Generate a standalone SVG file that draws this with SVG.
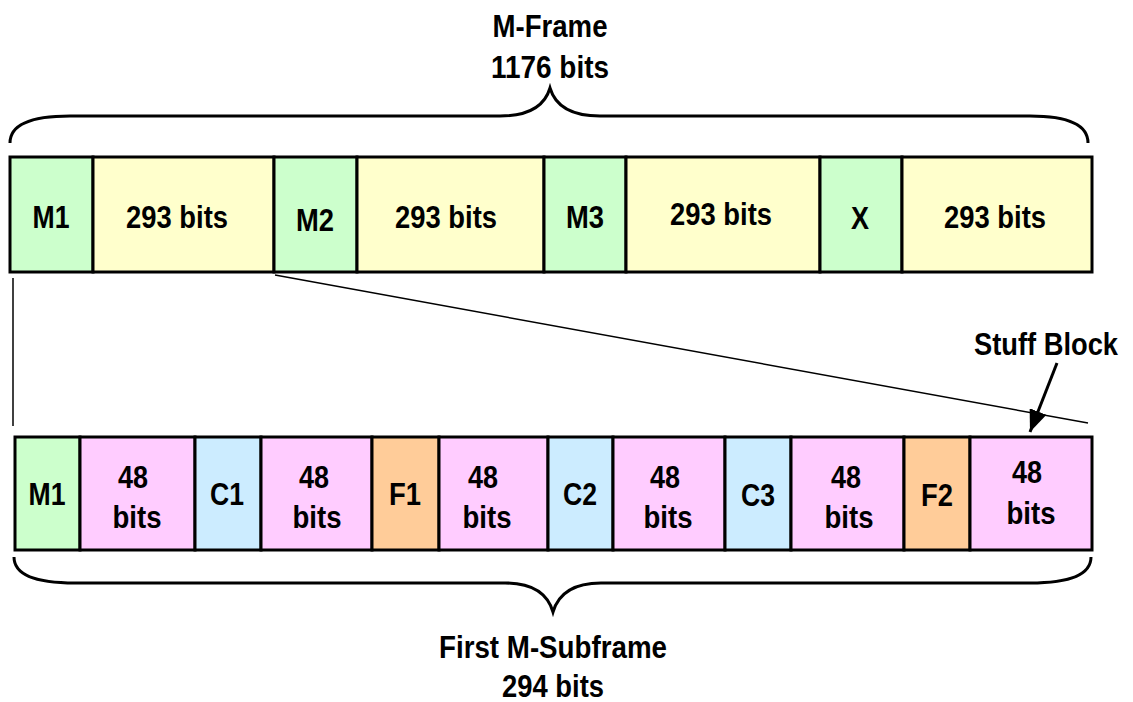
<svg xmlns="http://www.w3.org/2000/svg" width="1133" height="702" viewBox="0 0 1133 702">
  <style>
    .box { stroke: #000; stroke-width: 3; }
    .m { fill: #CCFFCC; }
    .y { fill: #FFFFCC; }
    .p { fill: #FFCCFF; }
    .c { fill: #CCECFF; }
    .f { fill: #FFCC99; }
    text { font-family: "Liberation Sans", Arial, sans-serif; font-weight: bold; font-size: 32px; fill: #000; text-anchor: middle; }
    .brace { fill: none; stroke: #000; stroke-width: 3; }
    .thin { stroke: #000; stroke-width: 1.5; fill: none; }
  </style>
  <defs>
    <marker id="head" viewBox="0 0 10 10" refX="10" refY="5" markerUnits="userSpaceOnUse" markerWidth="22" markerHeight="18" preserveAspectRatio="none" orient="auto">
      <path d="M0,0 L10,5 L0,10 z" fill="#000"/>
    </marker>
  </defs>

  <!-- M-Frame brace and label -->
  <g id="mframe-label">
    <path class="brace" d="M10 143 C10 125 30 116 70 116 L500 116 C530 116 545 105 550 88 C555 105 570 116 600 116 L1030 116 C1070 116 1088 125 1088 143"/>
    <text x="550" y="37" textLength="115" lengthAdjust="spacingAndGlyphs">M-Frame</text>
    <text x="550" y="78" textLength="118" lengthAdjust="spacingAndGlyphs">1176 bits</text>
  </g>

  <!-- M-Frame blocks -->
  <g id="top-m1"><rect class="box m" x="10" y="157" width="83" height="115"/><text x="51" y="228" textLength="37" lengthAdjust="spacingAndGlyphs">M1</text></g>
  <g id="top-d1"><rect class="box y" x="93" y="157" width="181" height="115"/><text x="177" y="228" textLength="102" lengthAdjust="spacingAndGlyphs">293 bits</text></g>
  <g id="top-m2"><rect class="box m" x="274" y="157" width="83" height="115"/><text x="315" y="231" textLength="38" lengthAdjust="spacingAndGlyphs">M2</text></g>
  <g id="top-d2"><rect class="box y" x="357" y="157" width="187" height="115"/><text x="446" y="228" textLength="102" lengthAdjust="spacingAndGlyphs">293 bits</text></g>
  <g id="top-m3"><rect class="box m" x="544" y="157" width="82" height="115"/><text x="585" y="228" textLength="38" lengthAdjust="spacingAndGlyphs">M3</text></g>
  <g id="top-d3"><rect class="box y" x="626" y="157" width="194" height="115"/><text x="721" y="225" textLength="102" lengthAdjust="spacingAndGlyphs">293 bits</text></g>
  <g id="top-x"><rect class="box m" x="820" y="157" width="82" height="115"/><text x="860" y="229" textLength="18" lengthAdjust="spacingAndGlyphs">X</text></g>
  <g id="top-d4"><rect class="box y" x="902" y="157" width="190" height="115"/><text x="995" y="228" textLength="102" lengthAdjust="spacingAndGlyphs">293 bits</text></g>

  <!-- Expansion lines and stuff block pointer -->
  <g id="connectors">
    <line class="thin" x1="13" y1="278" x2="13" y2="426"/>
    <line class="thin" x1="275" y1="275" x2="1088" y2="423"/>
    <line x1="1057" y1="363" x2="1030" y2="432" stroke="#000" stroke-width="3" marker-end="url(#head)"/>
  </g>
  <g id="stuff-label">
    <text x="1046" y="355" textLength="144" lengthAdjust="spacingAndGlyphs">Stuff Block</text>
  </g>

  <!-- First M-Subframe blocks -->
  <g id="sub-m1"><rect class="box m" x="15" y="437" width="65" height="113"/><text x="47" y="505" textLength="37" lengthAdjust="spacingAndGlyphs">M1</text></g>
  <g id="sub-d1"><rect class="box p" x="80" y="437" width="115" height="113"/><text x="133" y="488" textLength="30" lengthAdjust="spacingAndGlyphs">48</text><text x="137" y="528" textLength="49" lengthAdjust="spacingAndGlyphs">bits</text></g>
  <g id="sub-c1"><rect class="box c" x="195" y="437" width="66" height="113"/><text x="227" y="505" textLength="34" lengthAdjust="spacingAndGlyphs">C1</text></g>
  <g id="sub-d2"><rect class="box p" x="261" y="437" width="111" height="113"/><text x="314" y="488" textLength="30" lengthAdjust="spacingAndGlyphs">48</text><text x="317" y="528" textLength="49" lengthAdjust="spacingAndGlyphs">bits</text></g>
  <g id="sub-f1"><rect class="box f" x="372" y="437" width="67" height="113"/><text x="405" y="505" textLength="32" lengthAdjust="spacingAndGlyphs">F1</text></g>
  <g id="sub-d3"><rect class="box p" x="439" y="437" width="109" height="113"/><text x="483" y="488" textLength="30" lengthAdjust="spacingAndGlyphs">48</text><text x="487" y="528" textLength="49" lengthAdjust="spacingAndGlyphs">bits</text></g>
  <g id="sub-c2"><rect class="box c" x="548" y="437" width="65" height="113"/><text x="580" y="505" textLength="34" lengthAdjust="spacingAndGlyphs">C2</text></g>
  <g id="sub-d4"><rect class="box p" x="613" y="437" width="112" height="113"/><text x="665" y="488" textLength="30" lengthAdjust="spacingAndGlyphs">48</text><text x="668" y="528" textLength="49" lengthAdjust="spacingAndGlyphs">bits</text></g>
  <g id="sub-c3"><rect class="box c" x="725" y="437" width="66" height="113"/><text x="758" y="506" textLength="34" lengthAdjust="spacingAndGlyphs">C3</text></g>
  <g id="sub-d5"><rect class="box p" x="791" y="437" width="113" height="113"/><text x="846" y="488" textLength="30" lengthAdjust="spacingAndGlyphs">48</text><text x="849" y="528" textLength="49" lengthAdjust="spacingAndGlyphs">bits</text></g>
  <g id="sub-f2"><rect class="box f" x="904" y="437" width="66" height="113"/><text x="937" y="506" textLength="32" lengthAdjust="spacingAndGlyphs">F2</text></g>
  <g id="sub-d6"><rect class="box p" x="970" y="437" width="122" height="113"/><text x="1027" y="483" textLength="30" lengthAdjust="spacingAndGlyphs">48</text><text x="1031" y="524" textLength="49" lengthAdjust="spacingAndGlyphs">bits</text></g>

  <!-- Subframe brace and label -->
  <g id="subframe-label">
    <path class="brace" d="M14 557 C14 575 35 583 75 583 L505 583 C535 583 548 595 553 612 C558 595 571 583 601 583 L1030 583 C1070 583 1091 575 1091 557"/>
    <text x="553" y="658" textLength="228" lengthAdjust="spacingAndGlyphs">First M-Subframe</text>
    <text x="553" y="697" textLength="102" lengthAdjust="spacingAndGlyphs">294 bits</text>
  </g>
</svg>
